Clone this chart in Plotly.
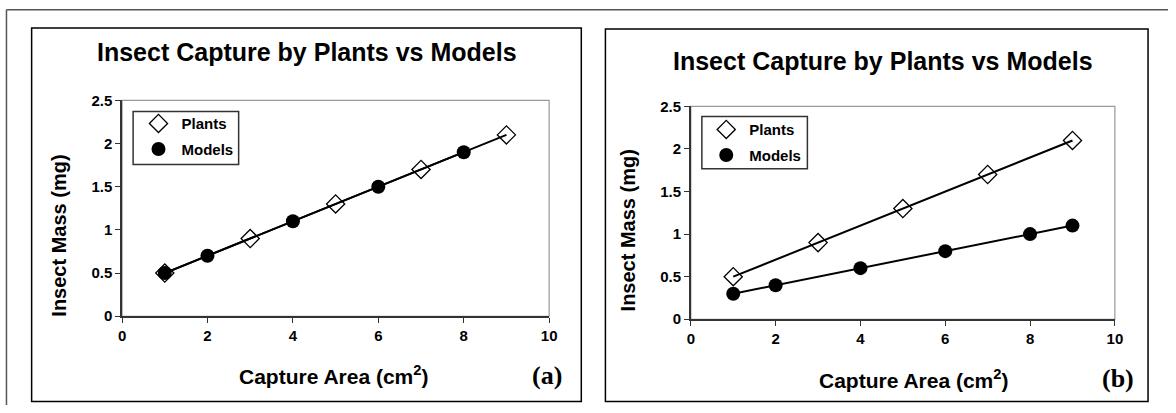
import plotly.graph_objects as go

# Panel (a)
a_plants_x = [1, 3, 5, 7, 9]
a_plants_y = [0.5, 0.9, 1.3, 1.7, 2.1]
a_models_x = [1, 2, 4, 6, 8]
a_models_y = [0.5, 0.7, 1.1, 1.5, 1.9]

# Panel (b)
b_plants_x = [1, 3, 5, 7, 9]
b_plants_y = [0.5, 0.9, 1.3, 1.7, 2.1]
b_models_x = [1, 2, 4, 6, 8, 9]
b_models_y = [0.3, 0.4, 0.6, 0.8, 1.0, 1.1]

title_text = "Insect Capture by Plants vs Models"
xtitle = "Capture Area (cm<sup>2</sup>)"
ytitle = "Insect Mass (mg)"
x_ticks = [0, 2, 4, 6, 8, 10]
y_ticks = [0, 0.5, 1, 1.5, 2, 2.5]
y_tick_text = ["0", "0.5", "1", "1.5", "2", "2.5"]

W, H = 1176, 413
SANS = "Arial, Liberation Sans, sans-serif"
SERIF = "Times New Roman, Liberation Serif, serif"

# calibration between reference pixel positions and page pixels
def tx(p):
    return (p - 4.5) / 0.985

def ty(p):
    return (p - 9) / 0.955

def px(p):
    return tx(p) / W

def py(p):
    return 1 - ty(p) / H

fig = go.Figure()

diamond = dict(symbol="diamond-open", size=14, color="black", line=dict(width=1.3, color="black"))
circle = dict(symbol="circle", size=14, color="black")

panels = [
    ("x", "y", "legend", a_plants_x, a_plants_y, a_models_x, a_models_y),
    ("x2", "y2", "legend2", b_plants_x, b_plants_y, b_models_x, b_models_y),
]
for xa, ya, lg, px_, py_, mx_, my_ in panels:
    fig.add_trace(go.Scatter(x=px_, y=py_, mode="lines", line=dict(color="black", width=2),
                             showlegend=False, hoverinfo="skip", xaxis=xa, yaxis=ya))
    fig.add_trace(go.Scatter(x=mx_, y=my_, mode="lines", line=dict(color="black", width=2),
                             showlegend=False, hoverinfo="skip", xaxis=xa, yaxis=ya))
    fig.add_trace(go.Scatter(x=px_, y=py_, mode="markers", name="Plants", marker=diamond,
                             xaxis=xa, yaxis=ya, legend=lg, legendgroup=lg + "p"))
    fig.add_trace(go.Scatter(x=mx_, y=my_, mode="markers", name="Models", marker=circle,
                             xaxis=xa, yaxis=ya, legend=lg, legendgroup=lg + "m"))

axis_common = dict(showgrid=False, zeroline=False, showline=True, linecolor="#333333", linewidth=1.5,
                   ticks="outside", ticklen=5, tickcolor="#333333", tickwidth=1,
                   tickfont=dict(family=SANS, size=15, color="black", weight="bold"))

# panel geometry (reference pixels)
A = dict(x0=122, x1=547, ytop=100, ybot=315)
B = dict(x0=688, x1=1110, ytop=106, ybot=318)

legend_common = dict(xanchor="left", yanchor="top", bgcolor="rgba(0,0,0,0)", borderwidth=0,
                     font=dict(family=SANS, size=15, color="black", weight="bold"),
                     tracegroupgap=3, traceorder="grouped", itemwidth=36)

fig.update_layout(
    width=W, height=H, margin=dict(l=0, r=0, t=0, b=0),
    paper_bgcolor="white", plot_bgcolor="white",
    xaxis=dict(domain=[px(A["x0"]), px(A["x1"])], range=[0, 10], tickvals=x_ticks, anchor="y", **axis_common),
    yaxis=dict(domain=[py(A["ybot"]), py(A["ytop"])], range=[0, 2.5], tickvals=y_ticks, ticktext=y_tick_text,
               anchor="x", **axis_common),
    xaxis2=dict(domain=[px(B["x0"]), px(B["x1"])], range=[0, 10], tickvals=x_ticks, anchor="y2", **axis_common),
    yaxis2=dict(domain=[py(B["ybot"]), py(B["ytop"])], range=[0, 2.5], tickvals=y_ticks, ticktext=y_tick_text,
                anchor="x2", **axis_common),
    legend=dict(x=(tx(158) - 23) / W, y=1 - (ty(124) - 18) / H, **legend_common),
    legend2=dict(x=(tx(723) - 23) / W, y=1 - (ty(130) - 18) / H, **legend_common),
    showlegend=True,
)

shapes = []
# outer lines (top and left)
shapes.append(dict(type="line", xref="paper", yref="paper", x0=2.5 / W, x1=1, y0=1 - 0.75 / H, y1=1 - 0.75 / H,
                   line=dict(color="#555555", width=1.5)))
shapes.append(dict(type="line", xref="paper", yref="paper", x0=2.5 / W, x1=2.5 / W, y0=1 - 0.75 / H, y1=0,
                   line=dict(color="#555555", width=1.5)))
# panel frames
shapes.append(dict(type="rect", xref="paper", yref="paper", x0=px(32), x1=px(579), y0=py(400), y1=py(28),
                   line=dict(color="black", width=1.5), layer="below"))
shapes.append(dict(type="rect", xref="paper", yref="paper", x0=px(603), x1=px(1143), y0=py(400), y1=py(29),
                   line=dict(color="black", width=1.5), layer="below"))
# plot area gray borders
for xr, yr in (("x", "y"), ("x2", "y2")):
    shapes.append(dict(type="rect", xref=xr + " domain", yref=yr + " domain", x0=0, x1=1, y0=0, y1=1,
                       line=dict(color="#999999", width=1.2), layer="below"))
# legend boxes
shapes.append(dict(type="rect", xref="paper", yref="paper", x0=px(133), x1=px(238), y0=py(164), y1=py(111),
                   line=dict(color="#333333", width=1.5), fillcolor="white", layer="below"))
shapes.append(dict(type="rect", xref="paper", yref="paper", x0=px(699), x1=px(804), y0=py(168), y1=py(116),
                   line=dict(color="#333333", width=1.5), fillcolor="white", layer="below"))
fig.update_layout(shapes=shapes)

def ann(text, x, y, size, family=SANS, angle=0):
    return dict(text=text, x=px(x), y=py(y), xref="paper", yref="paper", xanchor="center",
                yanchor="middle", showarrow=False, textangle=angle,
                font=dict(family=family, size=size, color="black"))

annotations = [
    ann("<b>" + title_text + "</b>", 306, 52, 25),
    ann("<b>" + title_text + "</b>", 879, 61, 25),
    ann("<b>" + ytitle + "</b>", 59, 235, 20, angle=-90),
    ann("<b>" + ytitle + "</b>", 625, 230, 20, angle=-90),
    ann("<b>" + xtitle + "</b>", 332, 374, 21),
    ann("<b>" + xtitle + "</b>", 910, 378, 21),
    ann("<b>(a)</b>", 545, 374, 26, family=SERIF),
    ann("<b>(b)</b>", 1113, 377, 26, family=SERIF),
]
fig.update_layout(annotations=annotations)

fig.write_html("out.html", config={"displayModeBar": False},
               post_script="document.body.style.margin='0';document.body.style.overflow='hidden';")
